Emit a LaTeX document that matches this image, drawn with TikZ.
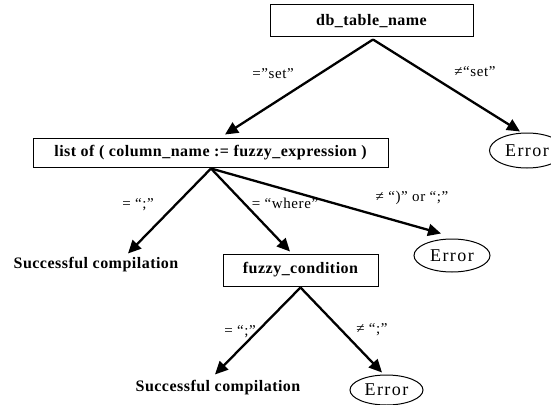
\documentclass[tikz,border=0pt]{standalone}
\usepackage{fontspec}
\setmainfont{Liberation Serif}
\usetikzlibrary{arrows.meta,shapes.geometric,calc}
\begin{document}
\begin{tikzpicture}[x=1pt,y=-1pt,
  box/.style={draw,line width=1pt,inner sep=0pt,font=\fontsize{16}{18}\selectfont\bfseries\addfontfeature{LetterSpace=3}},
  err/.style={draw,ellipse,line width=1pt,inner sep=0pt,minimum width=75,minimum height=32,font=\fontsize{18}{20}\selectfont\addfontfeature{LetterSpace=8}},
  succ/.style={inner sep=0pt,font=\fontsize{16}{18}\selectfont\bfseries\addfontfeature{LetterSpace=3}},
  lab/.style={inner sep=0pt,font=\fontsize{15}{17}\selectfont\addfontfeature{LetterSpace=4}},
  arr/.style={line width=2.3pt,-{Triangle[length=13pt,width=12pt]}}]
\useasboundingbox (0,0) rectangle (551,404);
\node[box,minimum width=203,minimum height=32] (db) at (371.5,21) {db\_table\_name};
\node[box,minimum width=355,minimum height=29] (list) at (210.5,152.5) {list of ( column\_name := fuzzy\_expression )};
\node[box,minimum width=155,minimum height=32] (fc) at (300.5,270) {fuzzy\_condition};
\node[err,minimum height=35] (e1) at (527,150.5) {Error};
\node[err,minimum width=76,minimum height=33] (e2) at (452,255.5) {Error};
\node[err,minimum width=73,minimum height=30] (e3) at (386.5,390) {Error};
\node[succ] (s1) at (96,265) {Successful compilation};
\node[succ] (s2) at (218,388) {Successful compilation};
\draw[arr] ($(db.south)+(1.5,2)$) -- ($(list.north)+(14.5,-3)$);
\draw[arr] ($(db.south)+(1.5,2)$) -- ($(e1.north)+(-7,-1)$);
\draw[arr] ($(list.south)+(0.5,1)$) -- ($(s1.north)+(32,-4)$);
\draw[arr] ($(list.south)+(0.5,1)$) -- ($(fc.north)+(-10.5,-2)$);
\draw[arr] ($(list.south)+(0.5,1)$) -- ($(e2.north)+(-11,-5)$);
\draw[arr] ($(fc.south)+(0,1)$) -- ($(s2.north)+(-3,-6)$);
\draw[arr] ($(fc.south)+(0,1)$) -- ($(e3.north)+(-4.5,-2)$);
\node[lab] (l1) at (273,74) {=”set”};
\node[lab] (l2) at (475,72) {≠“set”};
\node[lab] (l3) at (138,205) {= “;”};
\node[lab] (l4) at (285,203) {= “where”};
\node[lab] (l5) at (412,198) {≠ “)” or “;”};
\node[lab] (l6) at (240,332) {= “;”};
\node[lab] (l7) at (372,330) {≠ “;”};
\end{tikzpicture}
\end{document}
